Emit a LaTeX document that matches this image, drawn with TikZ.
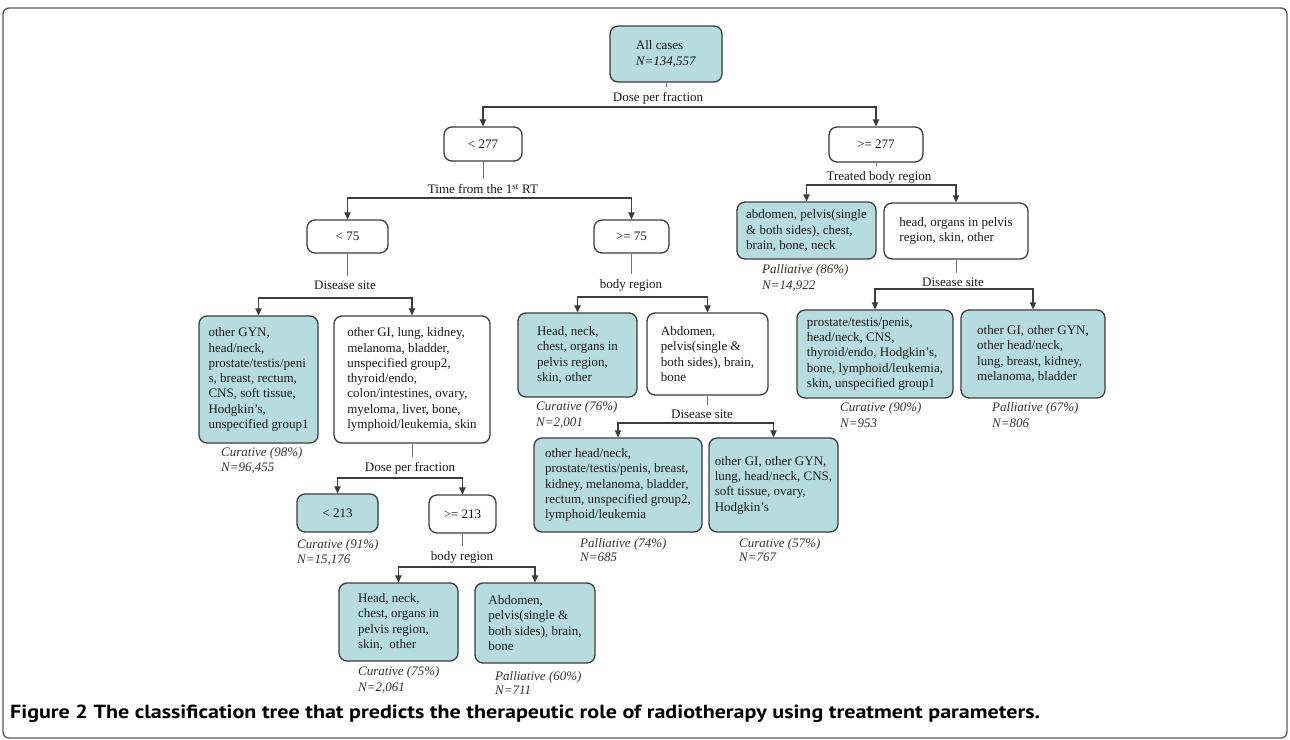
\documentclass[tikz,border=0pt]{standalone}
\usepackage{fontspec}
\setmainfont{Liberation Serif}
\newfontfamily\capfont[FakeStretch=1.16]{PT Sans}
\usetikzlibrary{arrows.meta}
\definecolor{leaffill}{RGB}{182,220,224}
\definecolor{edgegray}{RGB}{60,60,60}
\definecolor{framegray}{RGB}{90,90,90}
\definecolor{txt}{RGB}{25,25,25}
\begin{document}
\begin{tikzpicture}[x=1pt,y=-1pt,
  every node/.style={font=\fontsize{13}{15.3}\selectfont, text=txt},
  box/.style={draw=edgegray, line width=1.3pt, rounded corners=8pt, align=left, inner sep=0pt},
  leaf/.style={box, fill=leaffill},
  plain/.style={box, fill=white},
  lbl/.style={anchor=base, inner xsep=0pt, inner ysep=5pt},
  leafcap/.style={anchor=base west, inner sep=0pt, font=\fontsize{13}{15.3}\selectfont\itshape, text=black!80},
  conn/.style={draw=edgegray, line width=1.1pt},
  stub/.style={draw=black!55, line width=0.8pt},
  tip/.style={conn, {Triangle[length=7pt,width=6.5pt]}-{Triangle[length=7pt,width=6.5pt]}},
]
\useasboundingbox (0,0) rectangle (1290,739);
\draw[framegray, line width=1.3pt, rounded corners=6pt] (3,8) rectangle (1287,738);

% ---- boxes
\node[leaf, minimum width=112pt, minimum height=56pt] (root) at (666,54) {All cases\\\textit{N=134,557}};
\node[plain, minimum width=78pt, minimum height=34pt] (lt277) at (483,144) {< 277};
\node[plain, minimum width=94pt, minimum height=35pt] (ge277) at (876,144.5) {>= 277};
\node[plain, minimum width=81pt, minimum height=33pt] (lt75) at (347.5,236.5) {< 75};
\node[plain, minimum width=75pt, minimum height=33pt] (ge75) at (631.5,236.5) {>= 75};
\node[leaf, minimum width=119pt, minimum height=127pt] (lfA) at (258.5,379.5)
  {other GYN,\\head/neck,\\prostate/testis/peni\\s, breast, rectum,\\CNS, soft tissue,\\Hodgkin's,\\unspecified group1};
\node[plain, minimum width=156pt, minimum height=127pt] (bxB) at (412,379.5)
  {other GI, lung, kidney,\\melanoma, bladder,\\unspecified group2,\\thyroid/endo,\\colon/intestines, ovary,\\myeloma, liver, bone,\\lymphoid/leukemia, skin};
\node[leaf, minimum width=81pt, minimum height=38pt] (lt213) at (337.5,513) {< 213};
\node[plain, minimum width=67pt, minimum height=38pt] (ge213) at (462.5,514) {>= 213};
\node[leaf, minimum width=119pt, minimum height=78pt] (lfC) at (398.5,622)
  {Head, neck,\\chest, organs in\\pelvis region,\\skin,\ \ other};
\node[leaf, minimum width=120pt, minimum height=80pt] (lfD) at (535,623)
  {Abdomen,\\pelvis(single \&\\both sides), brain,\\bone};
\node[leaf, minimum width=119pt, minimum height=84pt] (lfE) at (577.5,355)
  {Head, neck,\\chest, organs in\\pelvis region,\\skin, other};
\node[plain, minimum width=121pt, minimum height=82pt] (bxF) at (707.5,354)
  {Abdomen,\\pelvis(single \&\\both sides), brain,\\bone};
\node[leaf, minimum width=168pt, minimum height=94pt] (lfG) at (618,485)
  {other head/neck,\\prostate/testis/penis, breast,\\kidney, melanoma, bladder,\\rectum, unspecified group2,\\lymphoid/leukemia};
\node[leaf, minimum width=129pt, minimum height=94pt] (lfH) at (773.5,485)
  {other GI, other GYN,\\lung, head/neck, CNS,\\soft tissue, ovary,\\Hodgkin's};
\node[leaf, minimum width=139pt, minimum height=57pt] (lfI) at (806.5,230.5)
  {abdomen, pelvis(single\\\& both sides), chest,\\brain, bone, neck};
\node[plain, minimum width=144pt, minimum height=56pt] (bxJ) at (956,231)
  {head, organs in pelvis\\region, skin, other};
\node[leaf, minimum width=156pt, minimum height=88pt] (lfK) at (875,354)
  {prostate/testis/penis,\\head/neck, CNS,\\thyroid/endo, Hodgkin's,\\bone, lymphoid/leukemia,\\skin, unspecified group1};
\node[leaf, minimum width=144pt, minimum height=88pt] (lfL) at (1033,354)
  {other GI, other GYN,\\other head/neck,\\lung, breast, kidney,\\melanoma, bladder};

% ---- split labels
\node[lbl] (L0) at (658,101.5) {Dose per fraction};
\node[lbl] (L1) at (483,193.5) {Time from the 1\textsuperscript{st} RT};
\node[lbl] (L2) at (345,289.5) {Disease site};
\node[lbl] (L3) at (631,288.5) {body region};
\node[lbl] (L4) at (410,471.5) {Dose per fraction};
\node[lbl] (L5) at (462,560.5) {body region};
\node[lbl] (L6) at (702,418.5) {Disease site};
\node[lbl] (L7) at (879,180.5) {Treated body region};
\node[lbl] (L8) at (953,286.5) {Disease site};

% ---- bar coordinates
\coordinate (b0) at (658,107);
\coordinate (b1) at (483,198);
\coordinate (b2) at (345,298);
\coordinate (b3) at (631,297);
\coordinate (b4) at (410,478);
\coordinate (b5) at (462,567);
\coordinate (b6) at (702,423);
\coordinate (b7) at (879,185);
\coordinate (b8) at (953,289);

% ---- stubs
\draw[stub] (root.south) -- (root.south |- L0.north);
\draw[stub] (lt277.south) -- (lt277.south |- L1.north);
\draw[stub] (lt75.south) -- (lt75.south |- L2.north);
\draw[stub] (ge75.south) -- (ge75.south |- L3.north);
\draw[stub] (bxB.south) -- (bxB.south |- L4.north);
\draw[stub] (ge213.south) -- (ge213.south |- L5.north);
\draw[stub] (bxF.south) -- (bxF.south |- L6.north);
\draw[stub] (ge277.south) -- (ge277.south |- L7.north);
\draw[stub] (bxJ.south) -- (bxJ.south |- L8.north);

% ---- branch connectors
\draw[tip] (lt277.north) |- (b0) -| (ge277.north);
\draw[tip] (lt75.north) |- (b1) -| (ge75.north);
\draw[tip] (lfA.north) |- (b2) -| (bxB.north);
\draw[tip] (lfE.north) |- (b3) -| (bxF.north);
\draw[tip] (lt213.north) |- (b4) -| (ge213.north);
\draw[tip] (lfC.north) |- (b5) -| (lfD.north);
\draw[tip] (lfG.north) |- (b6) -| (lfH.north);
\draw[tip] (lfI.north) |- (b7) -| (bxJ.north);
\draw[tip] (lfK.north) |- (b8) -| (lfL.north);

% ---- leaf captions
\node[leafcap] (cA1) at (221,456.5) {Curative (98\%)};
\node[leafcap] (cA2) at (221,471.5) {N=96,455};
\node[leafcap] (c213a) at (297,548.5) {Curative (91\%)};
\node[leafcap] (c213b) at (297,563.5) {N=15,176};
\node[leafcap] (cC1) at (358,675.5) {Curative (75\%)};
\node[leafcap] (cC2) at (358,691.5) {N=2,061};
\node[leafcap] (cD1) at (495,680.5) {Palliative (60\%)};
\node[leafcap] (cD2) at (495,694.5) {N=711};
\node[leafcap] (cE1) at (536,410.5) {Curative (76\%)};
\node[leafcap] (cE2) at (536,426.5) {N=2,001};
\node[leafcap] (cG1) at (580,547.5) {Palliative (74\%)};
\node[leafcap] (cG2) at (580,561.5) {N=685};
\node[leafcap] (cH1) at (739,547.5) {Curative (57\%)};
\node[leafcap] (cH2) at (739,561.5) {N=767};
\node[leafcap] (cI1) at (762,273.5) {Palliative (86\%)};
\node[leafcap] (cI2) at (762,289.5) {N=14,922};
\node[leafcap] (cK1) at (840,411.5) {Curative (90\%)};
\node[leafcap] (cK2) at (840,427.5) {N=953};
\node[leafcap] (cL1) at (992,411.5) {Palliative (67\%)};
\node[leafcap] (cL2) at (992,427.5) {N=806};

% ---- figure caption
\node[anchor=base west, inner sep=0pt, text=black, font=\capfont\bfseries\fontsize{19}{22}\selectfont] (figcap) at (10,718.5)
  {Figure 2 The classification tree that predicts the therapeutic role of radiotherapy using treatment parameters.};
\end{tikzpicture}
\end{document}
